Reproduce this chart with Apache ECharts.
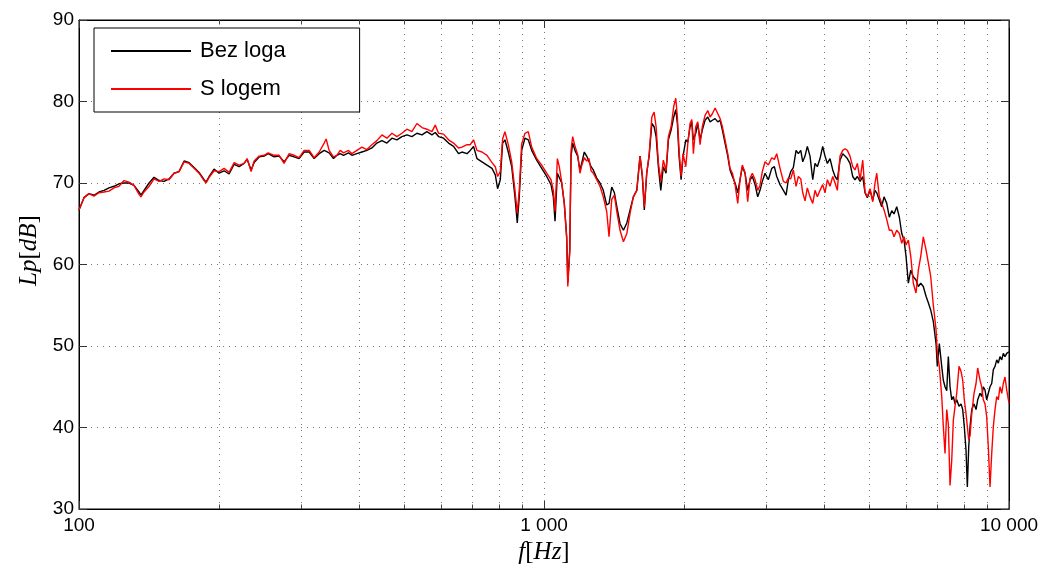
<!DOCTYPE html>
<html>
<head>
<meta charset="utf-8">
<title>Lp spectrum</title>
<script src="https://cdn.jsdelivr.net/npm/echarts@6/dist/echarts.min.js"></script>
<style>
  html, body { margin: 0; padding: 0; background: #fff; }
  #chart { width: 1040px; height: 568px; }
</style>
</head>
<body>
<div id="chart"></div>
<script>
// Frequency points [Hz], shared by both measurements
const freq = [
  100,102.5,105.1,107.7,110.4,113.2,116.0,118.9,121.9,125.0,
  128.1,131.3,134.6,135.9,138.0,141.5,145.0,148.7,152.4,156.2,
  160.1,164.1,168.3,172.5,176.8,181.2,185.8,187.6,190.5,195.2,
  200.1,205.1,210.3,215.6,221.0,226.5,229.9,234.5,238.0,244.0,
  250.1,255.1,262.8,269.4,276.1,283.1,290.2,297.4,304.9,312.6,
  320.4,328.5,336.7,340.0,345.1,
  352.6,358.6,364.5,370.5,379.9,386.3,395.9,405.8,416.0,426.5,
  437.1,448.2,459.3,470.9,482.7,494.8,507.2,519.9,533.0,546.4,
  560.0,574.1,583.6,593.2,608.1,623.3,639.0,655.0,666.1,682.9,
  694.1,705.5,717.6,735.6,754.0,772.9,785.7,794.7,805.4,814.7,
  824.1,837.9,852.2,866.1,876.0,884.7,895.4,910.1,925.1,940.9,
  964.4,988.7,1013.5,1035.3,1047.3,1056.2,1068.5,1078.6,
  1091.6,1105.7,1118.9,1125,1136,1143.3,1152.5,1165.8,1181.3,1194.9,
  1205.1,1220.8,1235.4,1250,1262.5,1276.5,1298.3,1319.5,1341.3,1364.1,
  1380,1398.6,1417.1,1434.1,1457.2,1481.8,1507.1,1531.6,1556.6,1583.1,
  1608.9,1627.2,1643.4,1663.1,1683,1705.8,1725,1742.2,1761.8,1783.0,
  1805.7,1830.1,1851.5,1876.6,1901.1,1920.2,1935.6,1952,1971.6,1991,
  2018,2038,2061,2079,2095,2120,2141,2166,2190,2220,
  2250,2276,2302,2333,2365,2392,2419,2451,2484,2512,
  2542,2576,2610,2640,2670,2706,2742,2774,2806,2844,
  2881,2914,2948,2988,3037,3089,3129,3166,3218,
  3272,3316,3353,3393,3437,3484,3524,3566,3601,3642,
  3684,3733,3784,3827,3871,3923,3975,4021,4068,4122,
  4178,4226,4274,4331,4390,4440,4491,4551,4612,4665,
  4719,4783,4847,4902,4958,5025,5093,5151,5195,5262,
  5325,5386,5459,5529,5596,5659,5736,5810,5880,5947,
  6006,6075,6148,6226,6310,6383,6459,6542,6631,6707,
  6787,6875,6968,7012,7082,7167,7224,7285,7347,7405,
  7468,7531,7591,7655,7720,7808,7886,7951,8015,8083,
  8136,8192,8245,8316,8410,8494,8564,8663,8736,8805,
  8880,8955,9026,9103,9180,9253,9331,9410,9484,9564,
  9646,9722,9804,9888,10000
];

// Sound pressure level [dB] without the box
const bezLoga = [
  66.7,68.2,68.7,68.5,68.9,69.1,69.4,69.6,69.9,70.0,
  70.0,69.7,68.9,68.5,69.1,70.0,70.7,70.3,70.2,70.5,
  71.2,71.4,72.7,72.5,71.9,71.3,70.4,70.1,70.8,71.7,
  71.2,71.5,71.1,72.3,72.0,72.4,72.9,71.6,72.5,73.2,
  73.3,73.6,73.2,73.3,72.6,73.4,73.2,73.0,73.8,73.8,
  73.0,73.6,74.0,74.0,73.7,
  73.0,73.4,73.6,73.4,73.7,73.4,73.6,73.8,74.0,74.3,
  74.9,75.2,74.9,75.5,75.3,75.7,75.9,75.7,76.1,75.9,
  76.3,75.9,76.2,75.7,75.5,74.9,74.5,73.6,73.8,73.6,
  74.0,74.5,73.0,72.6,72.2,71.8,71.0,69.3,70.4,74.9,
  75.3,73.8,72.0,68.3,65.1,68.3,74.0,75.5,75.3,74.0,
  72.8,71.8,70.8,69.8,68.3,65.3,71.2,71.0,
  70.0,67.5,63.4,57.8,61.8,73.3,74.9,74.0,73.3,71.6,
  72.4,73.8,73.3,72.6,72.0,71.6,70.6,70.0,69.1,67.3,
  67.5,69.5,68.8,67.1,65.0,64.2,65.1,66.7,68.3,69.1,
  73.3,70.8,66.7,71.2,73.3,77.3,76.9,75.7,72.0,69.1,
  72.0,71.2,75.3,76.5,78.1,79.0,77.3,73.3,70.4,73.3,
  75.3,75.0,76.9,77.5,75.3,76.1,77.3,75.3,76.5,77.7,
  78.1,77.5,77.7,77.9,77.5,77.7,76.5,74.9,73.3,71.6,
  70.8,70.0,68.8,70.4,72.0,71.2,69.1,70.4,70.8,69.8,
  68.3,69.1,70.2,71.2,70.4,71.8,72.0,70.8,69.8,
  69.1,68.5,70.4,71.4,71.9,74.0,73.6,74.0,72.6,73.3,
  74.5,73.3,70.4,72.4,72.0,73.0,74.5,73.3,72.4,73.0,
  71.6,70.8,70.4,72.8,73.6,73.3,73.0,72.4,70.8,70.4,
  70.8,70.2,70.8,68.8,68.2,69.1,67.9,69.1,68.8,67.9,
  67.1,68.3,67.5,65.8,66.6,66.2,67.1,65.8,63.8,63.0,
  61.0,57.7,59.3,58.5,58.1,57.3,57.7,57.3,56.1,55.3,
  54.4,53.0,50.3,47.5,50.3,47.5,45.8,45.0,44.5,48.7,
  45.0,43.4,43.8,42.9,43.4,42.6,42.9,42.2,40.1,37.2,
  32.7,37.6,40.1,42.2,42.9,42.2,43.4,44.2,43.8,45.0,
  44.6,43.4,44.2,45.0,45.4,47.1,47.5,48.3,47.9,48.7,
  48.3,49.1,48.7,49.1,49.3
];

// Sound pressure level [dB] with the box
const sLogem = [
  66.7,68.2,68.7,68.4,68.8,68.9,69.0,69.4,69.6,70.3,
  70.1,69.7,68.6,68.3,68.9,69.6,70.5,70.2,70.5,70.4,
  71.2,71.4,72.6,72.4,71.8,71.2,70.3,70.0,70.7,71.5,
  71.4,71.8,71.3,72.5,72.2,72.4,73.0,71.4,72.7,73.3,
  73.4,73.7,73.4,73.4,72.4,73.6,73.4,73.1,74.0,74.0,
  73.1,73.8,74.9,75.4,74.0,
  73.2,73.4,74.0,73.7,74.0,73.6,74.0,74.4,74.1,74.7,
  75.2,75.9,75.5,76.1,75.7,76.1,76.6,76.3,77.3,76.8,
  76.6,76.3,77.1,76.1,76.0,75.3,74.9,74.3,74.4,74.7,
  74.7,75.3,74.0,73.8,73.4,72.5,72.0,70.8,71.4,75.4,
  76.3,74.7,72.6,69.1,66.3,69.1,74.8,76.1,76.3,74.4,
  73.0,72.2,71.2,70.4,69.1,66.5,73.0,72.0,
  70.1,67.5,63.2,57.3,61.5,74.0,75.7,74.5,73.5,71.2,
  72.1,73.1,72.7,73.0,71.5,71.2,70.4,69.6,68.3,66.5,
  63.4,68.0,68.5,66.5,64.2,62.8,63.8,66.3,68.3,69.1,
  73.3,71.0,67.1,71.2,73.5,78.1,78.7,76.9,72.5,70.2,
  72.8,71.5,75.7,76.9,79.4,80.4,78.1,74.0,70.8,73.6,
  72.0,74.8,77.3,77.8,73.6,76.9,77.5,74.7,76.9,78.3,
  78.9,78.1,78.5,79.2,78.5,77.9,76.9,75.3,73.6,71.8,
  71.2,69.8,67.5,70.4,72.2,71.3,67.7,70.6,71.2,70.4,
  69.1,69.7,71.4,72.6,72.2,73.1,72.9,73.6,71.8,
  70.2,70.0,70.6,70.5,71.6,69.6,70.8,70.5,68.8,67.8,
  69.4,68.3,67.5,69.1,68.3,69.1,69.8,68.8,70.4,69.6,
  70.8,70.0,69.1,73.3,74.0,74.2,74.0,73.3,72.0,71.6,
  72.4,70.4,72.8,68.9,68.3,69.3,67.7,70.0,71.2,68.3,
  67.5,66.7,65.5,64.2,64.2,63.4,64.2,63.8,62.6,63.4,
  62.4,63.0,61.0,57.7,56.5,59.3,61.0,63.4,61.8,60.2,
  58.5,55.0,52.0,49.1,47.5,43.8,40.1,36.8,42.2,40.4,
  32.9,36.0,40.9,42.6,44.2,47.5,46.9,45.8,43.4,41.7,
  40.1,38.5,39.0,41.7,44.2,45.4,47.3,45.8,45.0,43.4,
  42.9,41.3,37.6,32.7,36.8,40.1,42.2,43.8,43.4,45.0,
  44.2,45.4,46.2,44.6,43.0
];

const seriesNames = ['Bez loga', 'S logem'];
const xTickValues = [100, 1000, 10000];
const xTickLabels = ['100', '1 000', '10 000'];
const xMinorTicks = [200, 300, 400, 500, 600, 700, 800, 900,
                     2000, 3000, 4000, 5000, 6000, 7000, 8000, 9000];
const yTicks = [30, 40, 50, 60, 70, 80, 90];

const yMin = yTicks[0], yMax = yTicks[yTicks.length - 1];
const dotted = { color: '#7a7a7a', width: 1, type: [1, 5] };
const tickLen = 0.55; // minor tick length in dB units

// dotted grid at 2..9 of each decade plus short tick marks at bottom and top
const minorLines = [];
xMinorTicks.forEach(f => {
  minorLines.push({ xAxis: f, lineStyle: dotted });
  minorLines.push([{ coord: [f, yMin], lineStyle: { color: '#444', width: 1, type: 'solid' } },
                   { coord: [f, yMin + tickLen] }]);
  minorLines.push([{ coord: [f, yMax], lineStyle: { color: '#444', width: 1, type: 'solid' } },
                   { coord: [f, yMax - tickLen] }]);
});

const mathRich = {
  i: { fontFamily: 'Liberation Serif', fontStyle: 'italic', fontSize: 25, color: '#000' },
  r: { fontFamily: 'Liberation Serif', fontSize: 25, color: '#000' }
};

const chart = echarts.init(document.getElementById('chart'), null, { renderer: 'canvas' });

chart.setOption({
  animation: false,
  backgroundColor: '#fff',
  grid: {
    left: 79, right: 31, top: 20, bottom: 59,
    outerBoundsMode: 'none',
    show: true, borderColor: '#000', borderWidth: 1, backgroundColor: '#fff'
  },
  legend: {
    data: seriesNames,
    orient: 'vertical',
    left: 94, top: 28,
    padding: [12, 74, 12, 16],
    itemGap: 16,
    itemWidth: 80,
    itemHeight: 22,
    backgroundColor: '#fff',
    borderColor: '#000',
    borderWidth: 1,
    itemStyle: { opacity: 0 },
    lineStyle: { width: 2 },
    textStyle: { fontFamily: 'Liberation Sans', fontSize: 22, color: '#000', padding: [0, 0, 0, 4] }
  },
  xAxis: [{
    type: 'log', logBase: 10, min: 100, max: 10000,
    name: '{i|f}{r|[}{i|Hz}{r|]}',
    nameLocation: 'middle', nameGap: 26,
    nameTextStyle: { rich: mathRich },
    axisLine: { show: true, lineStyle: { color: '#000', width: 1 } },
    axisTick: { show: true, inside: true, length: 8, lineStyle: { color: '#333' } },
    axisLabel: {
      color: '#000', fontFamily: 'Liberation Sans', fontSize: 19, margin: 7,
      formatter: v => {
        const k = xTickValues.findIndex(t => Math.abs(t - v) < 1e-6 * t);
        return k >= 0 ? xTickLabels[k] : '';
      }
    },
    splitLine: { show: true, lineStyle: dotted }
  }, {
    type: 'log', logBase: 10, min: 100, max: 10000, position: 'top',
    axisLine: { show: true, lineStyle: { color: '#000', width: 1 } },
    axisTick: { show: true, inside: true, length: 8, lineStyle: { color: '#333' } },
    axisLabel: { show: false },
    splitLine: { show: false }
  }],
  yAxis: [{
    type: 'value', min: yMin, max: yMax, interval: 10,
    name: '{i|Lp}{r|[}{i|dB}{r|]}',
    nameLocation: 'middle', nameGap: 37, nameRotate: 90,
    nameTextStyle: { rich: mathRich, padding: [0, 0, 0, 28] },
    axisLine: { show: true, lineStyle: { color: '#000', width: 1 } },
    axisTick: { show: true, inside: true, length: 8, lineStyle: { color: '#333' } },
    axisLabel: { color: '#000', fontFamily: 'Liberation Sans', fontSize: 19, margin: 5 },
    splitLine: { show: true, lineStyle: dotted }
  }, {
    type: 'value', min: yMin, max: yMax, interval: 10, position: 'right',
    axisLine: { show: true, lineStyle: { color: '#000', width: 1 } },
    axisTick: { show: true, inside: true, length: 8, lineStyle: { color: '#333' } },
    axisLabel: { show: false },
    splitLine: { show: false }
  }],
  series: [{
    name: seriesNames[0],
    type: 'line',
    data: freq.map((f, i) => [f, bezLoga[i]]),
    symbol: 'none',
    z: 3,
    lineStyle: { color: '#000', width: 1.4 },
    itemStyle: { color: '#000' },
    markLine: {
      silent: true, symbol: 'none', z: 1, animation: false,
      label: { show: false },
      emphasis: { disabled: true },
      data: minorLines
    }
  }, {
    name: seriesNames[1],
    type: 'line',
    data: freq.map((f, i) => [f, sLogem[i]]),
    symbol: 'none',
    z: 4,
    lineStyle: { color: '#ff0000', width: 1.4 },
    itemStyle: { color: '#ff0000' }
  }]
});
</script>
</body>
</html>
